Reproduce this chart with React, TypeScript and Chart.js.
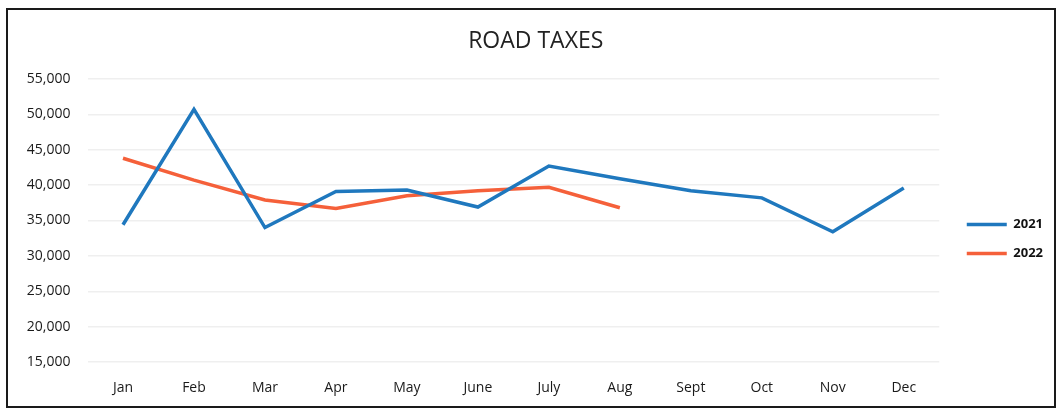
import React, { useEffect, useRef } from "react";
import { Chart, registerables } from "chart.js";

Chart.register(...registerables);

const months = ["Jan", "Feb", "Mar", "Apr", "May", "June", "July", "Aug", "Sept", "Oct", "Nov", "Dec"];
const taxes2021 = [34400, 50700, 34000, 39100, 39300, 36900, 42700, 40900, 39200, 38200, 33400, 39600];
const taxes2022 = [43800, 40700, 37900, 36700, 38500, 39200, 39700, 36800, null, null, null, null];
const yTicks = [15000, 20000, 25000, 30000, 35000, 40000, 45000, 50000, 55000];

const BLUE = "#1f78be";
const ORANGE = "#f5603a";
const FONT = "'Open Sans', 'Liberation Sans', sans-serif";

const shiftPlugin = {
  id: "shiftBoxes",
  afterLayout(chart: any) {
    const lg = chart.legend;
    if (lg) {
      lg.left += 11.5;
      lg.right += 11.5;
      lg.top += 31;
      lg.bottom += 31;
    }
    const tb = chart.titleBlock;
    if (tb) {
      tb.left += 11;
      tb.right += 11;
    }
  },
};

export default function App() {
  const ref = useRef<HTMLCanvasElement | null>(null);
  useEffect(() => {
    if (!ref.current) return;
    const defaultGen = (Chart.defaults as any).plugins.legend.labels.generateLabels;
    const chart = new Chart(ref.current, {
      type: "line",
      data: {
        labels: months,
        datasets: [
          {
            label: "2021",
            data: taxes2021,
            borderColor: BLUE,
            backgroundColor: BLUE,
            borderWidth: 3.5,
            pointRadius: 0,
            tension: 0,
          },
          {
            label: "2022",
            data: taxes2022,
            borderColor: ORANGE,
            backgroundColor: ORANGE,
            borderWidth: 3.5,
            pointRadius: 0,
            tension: 0,
          },
        ],
      },
      plugins: [shiftPlugin],
      options: {
        animation: false,
        responsive: false,
        maintainAspectRatio: false,
        layout: { padding: { right: 12.5, left: 0, top: 0, bottom: 0 } },
        plugins: {
          title: {
            display: true,
            text: "ROAD TAXES",
            color: "#222",
            font: { family: FONT, size: 23, weight: "normal" },
            padding: { top: 17.7, bottom: 23.7 },
          },
          legend: {
            position: "right",
            labels: {
              boxWidth: 40,
              boxHeight: 3.5,
              color: "#111",
              padding: 16,
              font: { family: FONT, size: 13, weight: "bold" },
              generateLabels: (c: any) =>
                defaultGen(c).map((l: any) => ({ ...l, lineWidth: 0 })),
            },
          },
          tooltip: { enabled: false },
        },
        scales: {
          x: {
            offset: true,
            grid: { display: false, drawTicks: false },
            border: { display: false },
            ticks: { color: "#1a1a1a", padding: 18, font: { family: FONT, size: 14 } },
            afterFit: (s: any) => { s.height = 44; },
          },
          y: {
            min: 15000,
            max: 55000,
            afterBuildTicks: (s: any) => { s.ticks = yTicks.map((v) => ({ value: v })); },
            grid: { color: "#efefef", lineWidth: 1.5, drawTicks: false },
            border: { display: false },
            ticks: {
              color: "#1a1a1a",
              padding: 17,
              font: { family: FONT, size: 14 },
              callback: (v: any) => Number(v).toLocaleString("en-US"),
            },
            afterFit: (s: any) => { s.width = 79.5; },
          },
        },
      },
    });
    return () => chart.destroy();
  }, []);
  return (
    <div
      style={{
        position: "absolute",
        left: 6,
        top: 8,
        width: 1050,
        height: 400,
        border: "2px solid #1a1a1a",
        boxSizing: "border-box",
        background: "#fff",
      }}
    >
      <canvas ref={ref} width={1046} height={396} style={{ display: "block" }} />
    </div>
  );
}
